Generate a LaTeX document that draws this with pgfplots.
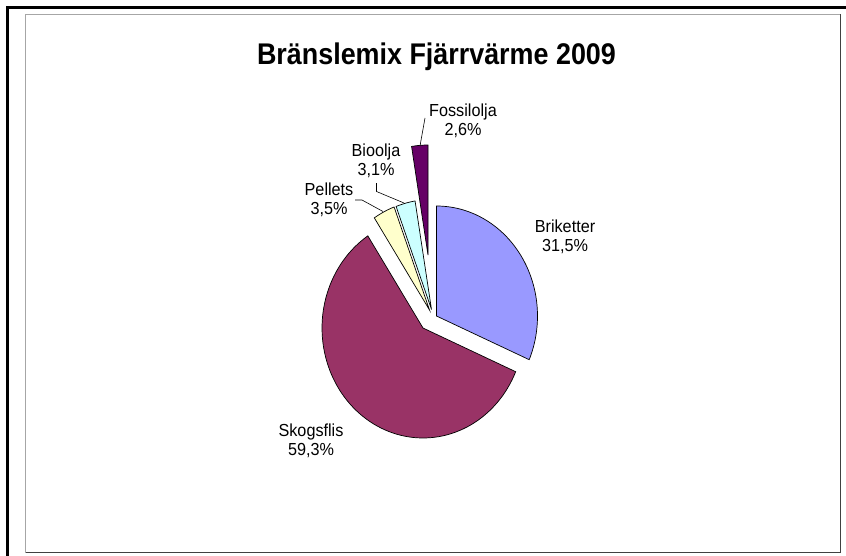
\documentclass[border=0pt]{standalone}
\usepackage{pgfplots}
\pgfplotsset{compat=1.18}
\usepackage{fontspec}
\setmainfont{Liberation Sans}
\usepackage{graphicx}

\definecolor{brik}{HTML}{9999FF}
\definecolor{skog}{HTML}{993366}
\definecolor{pell}{HTML}{FFFFCC}
\definecolor{bioo}{HTML}{CCFFFF}
\definecolor{foss}{HTML}{660066}

% shares in percent (clockwise from 12 o'clock)
\def\pBrik{31.5}
\def\pSkog{59.3}
\def\pPell{3.5}
\def\pBioo{3.1}
\def\pFoss{2.6}
\pgfmathsetmacro\aA{90}
\pgfmathsetmacro\aB{\aA-3.6*\pBrik}
\pgfmathsetmacro\aC{\aB-3.6*\pSkog}
\pgfmathsetmacro\aD{\aC-3.6*\pPell}
\pgfmathsetmacro\aE{\aD-3.6*\pBioo}
\pgfmathsetmacro\aF{\aE-3.6*\pFoss}

% #1 colour, #2 from, #3 to, #4 cx, #5 cy
\newcommand\pieslice[5]{%
  \addplot[fill=#1, draw=black, line width=0.7bp, domain=#2:#3, samples=90, variable=\t]
    ({#4+101*cos(\t)}, {#5-110*sin(\t)}) -- (#4,#5) -- cycle;%
}
\newcommand\lab[2]{\scalebox{0.93}[1]{\fontsize{17.5}{20}\selectfont\begin{tabular}{@{}c@{}}#1\\#2\end{tabular}}}

\begin{document}
\begin{tikzpicture}
\begin{axis}[
  width=846bp, height=556bp, scale only axis,
  xmin=0, xmax=846, ymin=0, ymax=556, y dir=reverse,
  axis lines=none, clip=true,
]
% frames
\draw[black, line width=3bp] (7.5,556) -- (7.5,7.5) -- (846,7.5);
\draw[gray!70, line width=1.2bp] (25.5,552.5) -- (25.5,14.5) -- (840.5,14.5);
\draw[black!75, line width=1.6bp] (840.5,14.5) -- (840.5,552.5) -- (25.5,552.5);

\pieslice{brik}{\aB}{\aA}{436.5}{316}
\pieslice{skog}{\aC}{\aB}{423}{328}
\pieslice{pell}{\aD}{\aC}{429.5}{310}
\pieslice{bioo}{\aE}{\aD}{431.5}{309.5}
\pieslice{foss}{\aF}{\aE}{428}{255}

% leader lines
\draw[black, line width=0.6bp] (425,118) -- (420,146);
\draw[black, line width=0.6bp] (376.5,183) -- (376.5,191.5) -- (404,203);
\draw[black, line width=0.6bp] (355,200) -- (362,200) -- (383,211.5);

% labels
\node[anchor=base] at (436.5,65) {\scalebox{0.9}[1]{\fontsize{30}{36}\selectfont\bfseries Bränslemix Fjärrvärme 2009}};
\tikzset{lb/.style={inner sep=0pt}}
\node[lb] at (565,238) {\lab{Briketter}{31,5\%}};
\node[lb] at (311,442) {\lab{Skogsflis}{59,3\%}};
\node[lb] at (329,201) {\lab{Pellets}{3,5\%}};
\node[lb] at (376,162) {\lab{Bioolja}{3,1\%}};
\node[lb] at (463,122) {\lab{Fossilolja}{2,6\%}};
\end{axis}
\pgfresetboundingbox
\path (current axis.south west) rectangle (current axis.north east);
\end{tikzpicture}
\end{document}
